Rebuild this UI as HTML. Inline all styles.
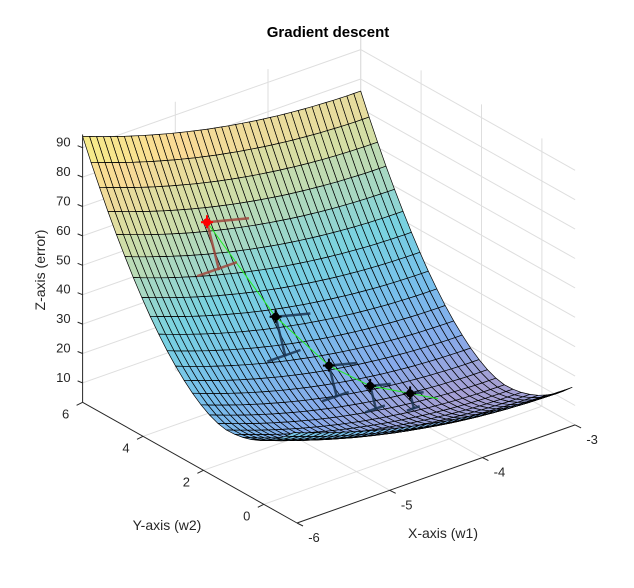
<!DOCTYPE html>
<html><head><meta charset="utf-8"><style>
body{margin:0;background:#fff}
svg{display:block;font-family:"Liberation Sans",sans-serif}
</style></head><body>
<svg id="chart" width="634" height="588" viewBox="0 0 634 588" xmlns="http://www.w3.org/2000/svg">
<rect width="634" height="588" fill="#fff"/>
<g id="walls"></g>
<g id="surf"></g>
<g id="path"></g>
<g id="axes"></g>
<text x="328" y="37" text-anchor="middle" font-size="15" font-weight="bold">Gradient descent</text>
<text x="443" y="538" text-anchor="middle" font-size="14" fill="#262626">X-axis (w1)</text>
<text x="167" y="530" text-anchor="middle" font-size="14" fill="#262626">Y-axis (w2)</text>
<text x="0" y="0" transform="translate(45,270) rotate(-90)" text-anchor="middle" font-size="14" fill="#262626">Z-axis (error)</text>
</svg>
<script>
const xTicks=[-6,-5,-4,-3];
const yTicks=[0,2,4,6];
const zTicks=[10,20,30,40,50,60,70,80,90];
const pathX=[-5,-4.7,-4.45,-4.2,-3.9];
const pathY=[4.95,3.6,2.6,2.0,1.6];
const pathZ=[59.6,31.9,18.3,12.1,8.5];
const XMIN=-6,XMAX=-3,YMIN=-1.1,YMAX=6,ZMIN=3.4,ZMAX=94.5;
function h(y){return y>1.2?3.5+4.65*Math.pow(y-1.2,1.75):3.5+2.5*(1.2-y)*(1.2-y);}
function f(x,y){return 2*(x+3)*(x+3)+h(y);}
function P(x,y,z){const a=x+6,b=y+1.1;return [297+92.7*a-30.2*b,523-32.7*a-17*b-2.94*(z-ZMIN)];}
const NS='http://www.w3.org/2000/svg';
function mk(tag,attrs,parent){const e=document.createElementNS(NS,tag);for(const k in attrs)e.setAttribute(k,attrs[k]);parent.appendChild(e);return e;}
function line(p,q,stroke,w,parent){return mk('line',{x1:p[0].toFixed(1),y1:p[1].toFixed(1),x2:q[0].toFixed(1),y2:q[1].toFixed(1),stroke:stroke,'stroke-width':w},parent);}
const walls=document.getElementById('walls'),surf=document.getElementById('surf'),pg=document.getElementById('path'),ax=document.getElementById('axes');
const gc='#dedede';
yTicks.forEach(v=>{if(v<YMAX){const l=line(P(XMIN,v,ZMIN),P(XMAX,v,ZMIN),gc,1,walls);}});
xTicks.forEach(v=>{if(v>XMIN){const l=line(P(v,YMIN,ZMIN),P(v,YMAX,ZMIN),gc,1,walls);}});
zTicks.forEach(v=>{
 const l1=line(P(XMIN,YMAX,v),P(XMAX,YMAX,v),gc,1,walls);
 const l2=line(P(XMAX,YMAX,v),P(XMAX,YMIN,v),gc,1,walls);
});
xTicks.forEach(v=>{if(v>XMIN){const l=line(P(v,YMAX,ZMIN),P(v,YMAX,ZMAX),gc,1,walls);}});
yTicks.forEach(v=>{const l=line(P(XMAX,v,ZMIN),P(XMAX,v,ZMAX),gc,1,walls);});
const stops=[[4,[165,160,212]],[12,[135,170,235]],[25,[120,190,235]],[40,[120,210,225]],[50,[160,215,200]],[65,[212,222,165]],[80,[250,218,150]],[92,[245,238,135]]];
function col(z){if(z<=stops[0][0])return stops[0][1];for(let i=1;i<stops.length;i++){if(z<=stops[i][0]){const t=(z-stops[i-1][0])/(stops[i][0]-stops[i-1][0]);const a=stops[i-1][1],b=stops[i][1];return a.map((v,k)=>Math.round(v+(b[k]-v)*t));}}return stops[stops.length-1][1];}
const NX=40,NY=25,SY0=-1,SY1=6;
const quads=[];
for(let i=0;i<NX;i++)for(let j=0;j<NY;j++){
 const x0=XMIN+(XMAX-XMIN)*i/NX,x1=XMIN+(XMAX-XMIN)*(i+1)/NX;
 const y0=SY0+(SY1-SY0)*j/NY,y1=SY0+(SY1-SY0)*(j+1)/NY;
 const c=[[x0,y0],[x1,y0],[x1,y1],[x0,y1]].map(p=>P(p[0],p[1],f(p[0],p[1])));
 const zc=f((x0+x1)/2,(y0+y1)/2);
 const depth=P((x0+x1)/2,(y0+y1)/2,ZMIN)[1];
 quads.push({c,zc,depth});
}
quads.sort((a,b)=>a.depth-b.depth);
quads.forEach(q=>{const cc=col(q.zc);const e=mk('polygon',{points:q.c.map(p=>p[0].toFixed(1)+','+p[1].toFixed(1)).join(' '),fill:'rgb('+cc.join(',')+')',stroke:'#000','stroke-width':0.7,'stroke-linejoin':'round'},surf);

});
const pts=pathX.map((x,i)=>P(x,pathY[i],pathZ[i]));
const last=pts[pts.length-1],prev=pts[pts.length-2];
const ext=[last[0]+(last[0]-prev[0])*0.7,last[1]+(last[1]-prev[1])*0.7];
const pl=mk('polyline',{points:pts.concat([ext]).map(p=>p[0].toFixed(1)+','+p[1].toFixed(1)).join(' '),fill:'none',stroke:'#22ee22','stroke-width':1},pg);


pts.forEach((p,i)=>{
 const s=1-i*0.17;const c=i===0?'rgba(160,70,60,0.85)':'rgba(25,50,80,0.85)';
 const g=mk('g',{},pg);
 
 
 line(p,[p[0]+42*s,p[1]-4*s],c,2.5,g);
 line(p,[p[0]+12*s,p[1]+48*s],c,2.5,g);
 line([p[0]-10*s,p[1]+54*s],[p[0]+30*s,p[1]+40*s],c,2.5,g);
 const mc=i===0?'#f00':'#000';
 mk('circle',{cx:p[0].toFixed(1),cy:p[1].toFixed(1),r:4,fill:mc},g);
 line([p[0]-6,p[1]],[p[0]+6,p[1]],mc,2,g);
 line([p[0],p[1]-7],[p[0],p[1]+6],mc,2,g);
});
const ac='#262626';
line(P(XMIN,YMAX,ZMIN),P(XMIN,YMAX,ZMAX),ac,1,ax);
line(P(XMIN,YMIN,ZMIN),P(XMIN,YMAX,ZMIN),ac,1,ax);
line(P(XMIN,YMIN,ZMIN),P(XMAX,YMIN,ZMIN),ac,1,ax);
zTicks.forEach(v=>{const p=P(XMIN,YMAX,v);line(p,[p[0]-5,p[1]-2],ac,1,ax);
 const t=mk('text',{x:(p[0]-12).toFixed(1),y:(p[1]-1).toFixed(1),'text-anchor':'end','font-size':13,fill:ac},ax);t.textContent=v;
 });
yTicks.forEach(v=>{const p=P(XMIN,v,ZMIN);line(p,[p[0]-6,p[1]+3],ac,1,ax);
 const t=mk('text',{x:(p[0]-17).toFixed(1),y:(p[1]+16).toFixed(1),'text-anchor':'middle','font-size':13,fill:ac},ax);t.textContent=v;
 });
xTicks.forEach(v=>{const p=P(v,YMIN,ZMIN);line(p,[p[0]+6,p[1]+3],ac,1,ax);
 const t=mk('text',{x:(p[0]+17).toFixed(1),y:(p[1]+19).toFixed(1),'text-anchor':'middle','font-size':13,fill:ac},ax);t.textContent=v;
 });
</script>
</body></html>
